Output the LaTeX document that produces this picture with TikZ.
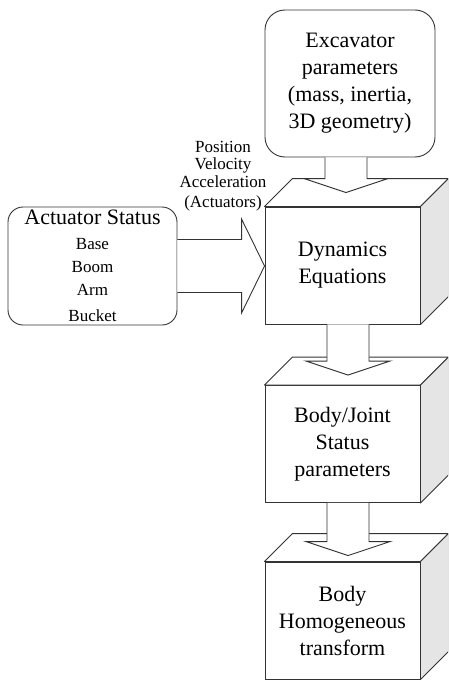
\documentclass[tikz,border=0pt]{standalone}
\usepackage{fontspec}
\setmainfont{Liberation Serif}
\usetikzlibrary{calc}
\tikzset{
  edge/.style={draw=black!80, line width=0.9pt},
  roundbox/.style={edge, fill=white, rounded corners=#1, align=center, inner sep=0pt},
  front/.style={edge, fill=white, minimum width=155pt, minimum height=117pt, align=center, inner sep=0pt, font=\fontsize{22}{27}\selectfont},
  topface/.style={edge, fill=white, line join=round},
  sideface/.style={edge, fill=black!10, line join=round},
  blockarrow/.style={edge, fill=white, line join=miter},
}
\newcommand{\cubefaces}[2]{%
  \draw[topface] (#1.north west) -- ++(#2,#2) -- ($(#1.north east)+(#2,#2)$) -- (#1.north east) -- cycle;
  \draw[sideface] (#1.north east) -- ++(#2,#2) -- ($(#1.south east)+(#2,#2)$) -- (#1.south east) -- cycle;}
\newcommand{\vblock}[4]{%
  \draw[blockarrow] let \p1=(#1.south), \p2=(#2.north), \p3=($(#2.north)+(#3,0)$) in
    (\x3-21pt,\y1) -- (\x3-21pt,\y2+#4+14pt) -- (\x3-42pt,\y2+#4+14pt) -- (\x3,\y2+#4)
    -- (\x3+42pt,\y2+#4+14pt) -- (\x3+21pt,\y2+#4+14pt) -- (\x3+21pt,\y1);}
\begin{document}
\begin{tikzpicture}[x=1pt,y=-1pt]
\useasboundingbox (0,0) rectangle (448,680);
\clip (0,0) rectangle (448,680);
% source boxes
\node[roundbox=20pt, minimum width=170pt, minimum height=147pt, font=\fontsize{22}{27}\selectfont]
  (exc) at (350,83.5) {Excavator\\parameters\\(mass, inertia,\\3D geometry)};
\node[roundbox=15pt, minimum width=169pt, minimum height=118pt, font=\fontsize{17}{23}\selectfont]
  (act) at (92.5,266) {{\fontsize{22}{24}\selectfont Actuator Status}\\[2pt]
  Base\\Boom\\Arm\\[3pt]Bucket};
\node[align=center, inner sep=0pt, font=\fontsize{17}{17.5}\selectfont]
  (pva) at (223,176) {Position\\Velocity\\Acceleration\\[3pt](Actuators)};
% cubes
\node[front] (dyn) at (342.5,265.5) {Dynamics\\Equations};
\cubefaces{dyn}{28pt}
\node[front] (bj) at (342.5,444) {Body/Joint\\Status\\parameters};
\cubefaces{bj}{28pt}
\node[front] (hom) at (342.5,620.5) {Body\\Homogeneous\\transform};
\cubefaces{hom}{28pt}
% block arrows
\vblock{exc}{dyn}{3.5pt}{14pt}
\vblock{dyn}{bj}{5.5pt}{10pt}
\vblock{bj}{hom}{5.5pt}{6pt}
\draw[blockarrow] let \p1=(act.east), \p2=(dyn.west) in
  (\x1,\y1+26.5pt) -- (\x2-23pt,\y1+26.5pt) -- (\x2-23pt,\y1+47pt) -- (\x2,\y1)
  -- (\x2-23pt,\y1-47pt) -- (\x2-23pt,\y1-26.5pt) -- (\x1,\y1-26.5pt);
\end{tikzpicture}
\end{document}
